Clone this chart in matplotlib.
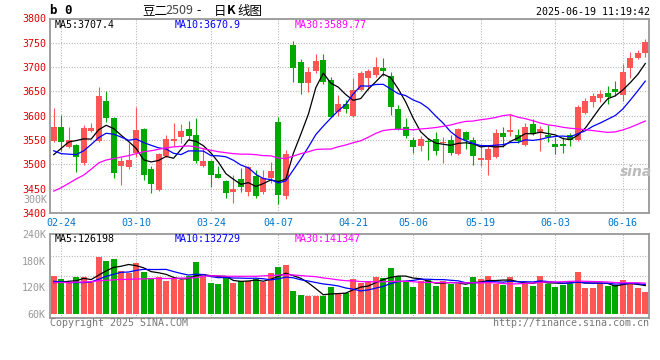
import numpy as np
import pandas as pd
import matplotlib
matplotlib.use("Agg")
import matplotlib.pyplot as plt

#-----------------------------------------------------------------------------#
# Daily K-line of 豆二2509, 02-21 .. 06-19 (80 sessions)
#-----------------------------------------------------------------------------#
opens = [3548, 3577, 3536, 3540, 3502, 3568, 3548, 3630, 3596, 3497,
         3494, 3523, 3573, 3490, 3447, 3517, 3548, 3557, 3573, 3560,
         3497, 3506, 3480, 3466, 3444, 3470, 3444, 3477, 3444, 3471,
         3588, 3434, 3745, 3710, 3668, 3693, 3714, 3673, 3608, 3625,
         3600, 3653, 3678, 3684, 3699, 3682, 3614, 3576, 3550, 3538,
         3548, 3552, 3544, 3550, 3521, 3566, 3550, 3508, 3508, 3516,
         3565, 3566, 3560, 3540, 3584, 3565, 3560, 3542, 3542, 3560,
         3551, 3606, 3629, 3637, 3647, 3655, 3643, 3699, 3718, 3729]
highs = [3616, 3601, 3577, 3542, 3581, 3586, 3660, 3651, 3598, 3515,
         3543, 3619, 3575, 3496, 3523, 3560, 3586, 3584, 3589, 3595,
         3533, 3508, 3497, 3468, 3478, 3493, 3497, 3488, 3488, 3505,
         3598, 3529, 3754, 3717, 3701, 3727, 3728, 3680, 3643, 3632,
         3677, 3692, 3697, 3720, 3719, 3689, 3622, 3595, 3557, 3558,
         3555, 3566, 3556, 3560, 3574, 3568, 3556, 3541, 3539, 3572,
         3576, 3603, 3573, 3586, 3593, 3578, 3581, 3556, 3557, 3564,
         3622, 3636, 3646, 3653, 3661, 3671, 3706, 3732, 3735, 3758]
lows = [3546, 3528, 3534, 3485, 3499, 3566, 3546, 3588, 3473, 3458,
        3490, 3515, 3468, 3442, 3445, 3515, 3538, 3543, 3550, 3503,
        3495, 3453, 3471, 3430, 3421, 3444, 3435, 3430, 3440, 3461,
        3419, 3428, 3670, 3644, 3648, 3687, 3665, 3597, 3599, 3605,
        3598, 3650, 3653, 3680, 3682, 3601, 3570, 3555, 3524, 3528,
        3509, 3520, 3502, 3520, 3519, 3531, 3499, 3497, 3478, 3513,
        3535, 3558, 3543, 3538, 3560, 3527, 3546, 3521, 3523, 3538,
        3549, 3604, 3619, 3629, 3625, 3640, 3631, 3678, 3716, 3721]
closes = [3577, 3545, 3550, 3516, 3574, 3575, 3641, 3596, 3482, 3506,
          3510, 3571, 3478, 3460, 3521, 3552, 3552, 3569, 3558, 3506,
          3506, 3478, 3473, 3441, 3449, 3454, 3495, 3434, 3471, 3486,
          3437, 3521, 3699, 3667, 3690, 3712, 3670, 3597, 3625, 3614,
          3653, 3688, 3693, 3701, 3693, 3617, 3573, 3558, 3535, 3553,
          3545, 3528, 3546, 3524, 3573, 3551, 3518, 3514, 3531, 3565,
          3556, 3571, 3549, 3576, 3562, 3573, 3557, 3535, 3538, 3551,
          3619, 3631, 3641, 3645, 3639, 3649, 3690, 3718, 3729, 3751]
volumes = [145600, 138300, 130900, 143400, 143400, 132300, 188000, 178400, 182900, 156100,
           152300, 174600, 154600, 139800, 143400, 134500, 139800, 136100, 145600, 176900,
           143400, 130000, 128700, 145600, 130000, 133800, 133800, 139800, 132300, 152300,
           165700, 169500, 112200, 102600, 101100, 101100, 101100, 121100, 106400, 106400,
           138300, 130900, 133800, 143400, 141200, 163500, 145600, 133800, 121100, 133800,
           136100, 123400, 133800, 128700, 128700, 121100, 143400, 138300, 145600, 128700,
           126500, 143400, 121100, 130900, 123400, 145600, 128700, 121100, 126500, 128700,
           154600, 118900, 118900, 128700, 123400, 124900, 136100, 130900, 118900, 110000]

# moving-average values before a full window exists
ma5_head = [3520, 3533, 3546, 3549]
ma10_head = [3528, 3522, 3521, 3520, 3528, 3541, 3555, 3564, 3562]
ma30_head = [3445, 3452, 3461, 3470, 3478, 3490, 3503, 3509, 3512, 3515,
             3518, 3522, 3526, 3528, 3531, 3534, 3536, 3537, 3538, 3536,
             3532, 3529, 3526, 3524, 3522, 3521, 3521, 3520, 3518]
vma5_head = [130900, 131600, 133800, 134900]
vma10_head = [133800, 132300, 130900, 130900, 130900, 132300, 138300, 145000, 149500]
vma30_head = [131000, 131000, 131000, 132000, 132000, 133000, 135000, 136000, 137000, 138000,
              138000, 139000, 139000, 140000, 140000, 140000, 140000, 141000, 141000, 142000,
              145000, 146000, 146000, 145000, 145000, 145000, 145000, 145000, 146000]

tick_index = [1, 11, 21, 30, 40, 48, 57, 67, 76]
tick_labels = ["02-24", "03-10", "03-24", "04-07", "04-21", "05-06", "05-19", "06-03", "06-16"]
price_ticks = [3400, 3450, 3500, 3550, 3600, 3650, 3700, 3750, 3800]
vol_ticks = [60000, 120000, 180000, 240000]
vol_tick_labels = ["60K", "120K", "180K", "240K"]

price_header = ["MA5:3707.4", "MA10:3670.9", "MA30:3589.77"]
vol_header = ["MA5:126198", "MA10:132729", "MA30:141347"]

UP = "#ff5555"
DOWN = "#00a800"
MA_COLS = ["black", "#0000ff", "#ff00ff"]
GRID = "#aaaaaa"
SPINE = "#999999"
MONO = "DejaVu Sans Mono"
CJK = ["Noto Sans CJK SC", "DejaVu Sans"]

plt.rcParams["font.family"] = [MONO]
plt.rcParams["font.size"] = 7.2


def moving_average(values, n, head):
    out = pd.Series(values, dtype=float).rolling(n).mean().to_numpy()
    out[:n - 1] = head
    return out


W, H = 660, 360
fig = plt.figure(figsize=(W / 100, H / 100), dpi=100)


def px_axes(x0, y0, x1, y1):
    return fig.add_axes([x0 / W, 1 - y1 / H, (x1 - x0) / W, (y1 - y0) / H])


def ftext(x, y, s, **kw):
    fig.text(x / W, 1 - y / H, s, **kw)


x = np.arange(len(closes)) + 0.5
o = np.array(opens, dtype=float)
c = np.array(closes, dtype=float)
cols = [UP if cc >= oo else DOWN for oo, cc in zip(o, c)]

#-----------------------------------------------------------------------------#
# price panel
ax = px_axes(50, 18.5, 649, 213)
ax.set_axisbelow(True)
ax.vlines(x, lows, highs, colors=cols, lw=0.8, zorder=2)
body_h = np.maximum(np.abs(c - o), 1.5)
ax.bar(x, body_h, bottom=np.minimum(o, c), width=0.8, color=cols, linewidth=0, zorder=3)
for n, head, col in zip([5, 10, 30], [ma5_head, ma10_head, ma30_head], MA_COLS):
    ax.plot(x, moving_average(closes, n, head), color=col, lw=0.9, zorder=4)
ax.set_xlim(0, len(closes))
ax.set_ylim(3400, 3800)
ax.set_yticks(price_ticks)
ax.set_xticks(np.array(tick_index) + 0.5)
ax.set_xticklabels(tick_labels, color="#0077cc")
ax.tick_params(axis="y", length=0, pad=3, labelcolor="#dd0000")
ax.tick_params(axis="x", length=0, pad=3.5)
ax.grid(True, color=GRID, lw=0.8, linestyle=(0, (0.8, 1.6)))
for s in ax.spines.values():
    s.set_color(SPINE)
    s.set_linewidth(1.3)

#-----------------------------------------------------------------------------#
# volume panel
axv = px_axes(50, 234, 649, 318)
axv.set_axisbelow(True)
axv.bar(x, np.array(volumes) - 60000, bottom=60000, width=0.8, color=cols, linewidth=0, zorder=3)
for n, head, col in zip([5, 10, 30], [vma5_head, vma10_head, vma30_head], MA_COLS):
    axv.plot(x, moving_average(volumes, n, head), color=col, lw=0.9, zorder=4)
axv.set_xlim(0, len(closes))
axv.set_ylim(51300, 240000)
axv.set_yticks(vol_ticks)
axv.set_yticklabels(vol_tick_labels, color="#999999")
axv.set_yticks([102000, 146000, 190000], minor=True)
axv.set_xticks(np.array(tick_index) + 0.5)
axv.tick_params(axis="both", which="both", length=0)
axv.tick_params(axis="y", pad=3)
axv.tick_params(axis="x", labelbottom=False)
axv.grid(True, which="minor", axis="y", color=GRID, lw=0.8, linestyle=(0, (0.8, 1.6)))
axv.grid(True, which="major", axis="x", color=GRID, lw=0.8, linestyle=(0, (0.8, 1.6)))
for s in axv.spines.values():
    s.set_color(SPINE)
    s.set_linewidth(1.3)

#-----------------------------------------------------------------------------#
# texts
for xp, s, col in zip([55, 175, 295], price_header, MA_COLS):
    ftext(xp, 24.5, s, color=col, va="center")
for xp, s, col in zip([55, 175, 295], vol_header, MA_COLS):
    ftext(xp, 239.5, s, color=col, va="center")

ftext(50, 11, "b 0", fontsize=9, fontweight="bold", va="center")
ftext(142, 11, "豆二", family=CJK, fontsize=9, va="center")
ftext(165, 11, "2509", family=CJK, fontsize=9, color="#444444", va="center")
ftext(196, 11, "-", family=CJK, fontsize=9, va="center")
ftext(214, 11, "日", family=CJK, fontsize=9, va="center")
ftext(227, 11, "K", family=CJK, fontsize=9, fontweight="bold", va="center")
ftext(237, 11, "线图", family=CJK, fontsize=9, va="center")
ftext(650, 12, "2025-06-19 11:19:42", ha="right", va="center")

ftext(47, 200, "300K", ha="right", va="center", color="#999999")
ftext(50, 323, "Copyright 2025 SINA.COM", va="center", color="#777777")
ftext(649, 323, "http://finance.sina.com.cn", ha="right", va="center", color="#777777")
ftext(636, 172, "sina", ha="center", va="center", family="DejaVu Sans", fontsize=10,
      style="italic", fontweight="bold", color="#bbbbbb")

fig.savefig("out.png", dpi=100)
